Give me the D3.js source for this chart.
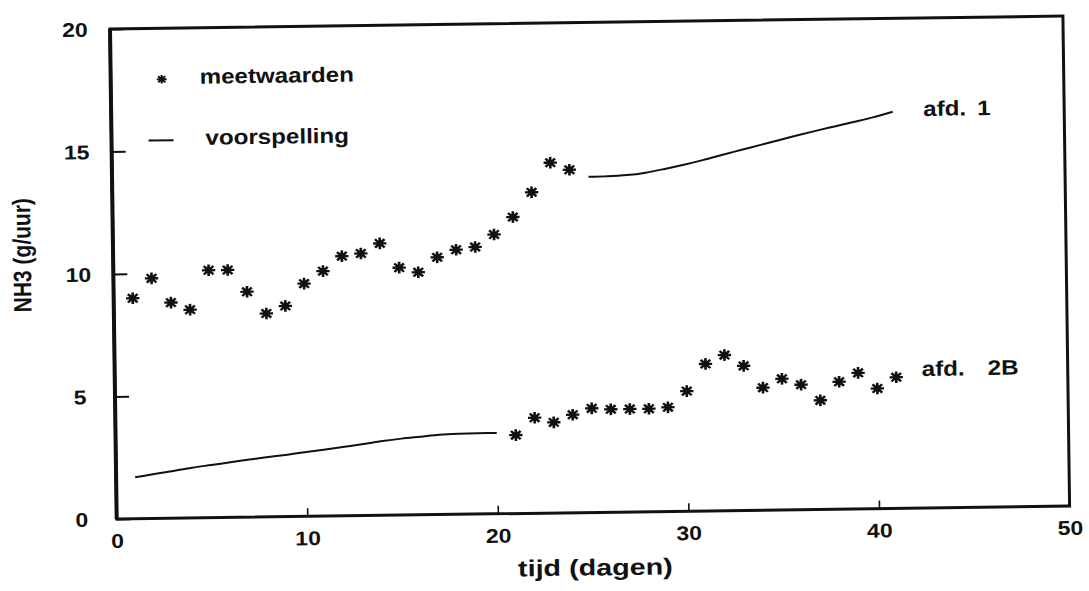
<!DOCTYPE html>
<html>
<head>
<meta charset="utf-8">
<script src="https://cdn.jsdelivr.net/npm/d3@7"></script>
<style>
  html, body { margin: 0; padding: 0; background: #fff; }
  svg { display: block; }
  text { font-family: "Liberation Sans", Arial, Helvetica, sans-serif; font-weight: bold; fill: #111; }
</style>
</head>
<body>
<svg id="chart" width="1089" height="591"></svg>
<script>
// Axis ticks
const xTicks = [0, 10, 20, 30, 40, 50];
const yTicks = [0, 5, 10, 15, 20];

// afd. 1: measured NH3 emission (g/uur), days 1-24
const meetDays1 = [1, 2, 3, 4, 5, 6, 7, 8, 9, 10, 11, 12, 13, 14, 15, 16, 17, 18, 19, 20, 21, 22, 23, 24];
const meetValues1 = [9.0, 9.8, 8.8, 8.5, 10.1, 10.1, 9.2, 8.3, 8.6, 9.5, 10.0, 10.6, 10.7, 11.1, 10.1, 9.9, 10.5, 10.8, 10.9, 11.4, 12.1, 13.1, 14.3, 14.0];

// afd. 1: prediction, days 25-41
const predDays1 = [25, 26, 27, 28, 29, 30, 31, 32, 33, 34, 35, 36, 37, 38, 39, 40, 41];
const predValues1 = [13.70, 13.71, 13.75, 13.84, 13.98, 14.14, 14.32, 14.52, 14.71, 14.90, 15.09, 15.28, 15.46, 15.63, 15.80, 15.98, 16.19];

// afd. 2B: prediction, days 1-20
const predDays2 = [1, 2, 3, 4, 5, 6, 7, 8, 9, 10, 11, 12, 13, 14, 15, 16, 17, 18, 19, 20];
const predValues2 = [1.69, 1.81, 1.93, 2.05, 2.15, 2.25, 2.35, 2.44, 2.53, 2.63, 2.72, 2.82, 2.92, 3.03, 3.12, 3.19, 3.26, 3.29, 3.30, 3.30];

// afd. 2B: measured NH3 emission, days 21-41
const meetDays2 = [21, 22, 23, 24, 25, 26, 27, 28, 29, 30, 31, 32, 33, 34, 35, 36, 37, 38, 39, 40, 41];
const meetValues2 = [3.2, 3.9, 3.7, 4.0, 4.25, 4.2, 4.2, 4.2, 4.25, 4.9, 6.0, 6.35, 5.9, 5.0, 5.35, 5.1, 4.45, 5.2, 5.55, 4.9, 5.35];

const legendLabels = ["meetwaarden", "voorspelling"];
const seriesLabels = ["afd.", "1", "2B"];

// ---- layout ----
const W = 953, H = 490;
const stretch = 1.15;       // wide lettering
const svg = d3.select("#chart");
svg.append("rect").attr("width", 1089).attr("height", 591).attr("fill", "#fff");

const g = svg.append("g").attr("transform", "translate(110,29) rotate(-0.78)");

const x = d3.scaleLinear().domain([0, 50]).range([0, W]);
const y = d3.scaleLinear().domain([0, 20]).range([H, 0]);

// ticks pointing into the plot
const xAxis = g.append("g").attr("transform", `translate(0,${H})`)
  .call(d3.axisBottom(x).tickValues(xTicks).tickSizeInner(-8).tickSizeOuter(0).tickFormat(d3.format("d")));
xAxis.select(".domain").remove();
xAxis.selectAll("line").attr("stroke", "#111").attr("stroke-width", 1.6);
xAxis.selectAll("text")
  .attr("x", 0).attr("y", 0).attr("dy", null)
  .attr("transform", `translate(0,22) scale(${stretch},1)`)
  .attr("text-anchor", "middle").attr("dominant-baseline", "central")
  .style("font-size", "20px").attr("fill", "#111");

const yAxis = g.append("g")
  .call(d3.axisLeft(y).tickValues(yTicks).tickSizeInner(-14).tickSizeOuter(0).tickFormat(d3.format("d")));
yAxis.select(".domain").remove();
yAxis.selectAll("line").attr("stroke", "#111").attr("stroke-width", 2);
yAxis.selectAll("text")
  .attr("x", 0).attr("dy", null)
  .attr("transform", `translate(-35,0) scale(${stretch},1)`)
  .attr("text-anchor", "middle").attr("dominant-baseline", "central")
  .style("font-size", "20px").attr("fill", "#111");

// frame
g.append("rect").attr("x", 0).attr("y", 0).attr("width", W).attr("height", H)
  .attr("fill", "none").attr("stroke", "#111").attr("stroke-width", 3);
g.append("line").attr("x1", 0).attr("y1", 0).attr("x2", 0).attr("y2", H)
  .attr("stroke", "#111").attr("stroke-width", 4);

// prediction curves
const line = d3.line().x(d => x(d[0])).y(d => y(d[1])).curve(d3.curveMonotoneX);
[[predDays1, predValues1], [predDays2, predValues2]].forEach(([days, vals]) => {
  g.append("path").datum(days.map((d, i) => [d, vals[i]]))
    .attr("d", line).attr("fill", "none").attr("stroke", "#111").attr("stroke-width", 2);
});

// asterisk markers
function asteriskPath(r) {
  const k = r * 0.72;
  return `M${-r},0L${r},0M0,${-r}L0,${r}M${-k},${-k}L${k},${k}M${-k},${k}L${k},${-k}`;
}
function drawMarker(sel, r, sw) {
  sel.append("path").attr("d", asteriskPath(r)).attr("stroke", "#111").attr("stroke-width", sw).attr("fill", "none");
  sel.append("circle").attr("r", r * 0.48).attr("fill", "#111");
}
[[meetDays1, meetValues1], [meetDays2, meetValues2]].forEach(([days, vals]) => {
  g.append("g").selectAll("g").data(days.map((d, i) => [d, vals[i]])).join("g")
    .attr("transform", d => `translate(${x(d[0])},${y(d[1])}) scale(${stretch},1)`)
    .each(function () { drawMarker(d3.select(this), 5.8, 2.3); });
});

// legend
const leg = g.append("g");
drawMarker(leg.append("g").attr("transform", `translate(51,51) scale(${stretch},1)`), 4.3, 1.8);
leg.append("text").attr("transform", `translate(89,49) scale(${stretch},1)`)
  .attr("dominant-baseline", "central").style("font-size", "21px").text(legendLabels[0]);
leg.append("line").attr("x1", 37).attr("x2", 62).attr("y1", 112).attr("y2", 112)
  .attr("stroke", "#111").attr("stroke-width", 2);
leg.append("text").attr("transform", `translate(94,110) scale(${stretch},1)`)
  .attr("dominant-baseline", "central").style("font-size", "21px").text(legendLabels[1]);

// series labels
function seriesLabel(u, v, gap, suffix) {
  const t = g.append("g").attr("transform", `translate(${u},${v})`);
  t.append("text").attr("transform", `scale(${stretch},1)`)
    .attr("dominant-baseline", "central").style("font-size", "21px").text(seriesLabels[0]);
  t.append("text").attr("transform", `translate(${gap},0) scale(${stretch},1)`)
    .attr("dominant-baseline", "central").style("font-size", "21px").text(suffix);
}
seriesLabel(812, 91, 54, seriesLabels[1]);
seriesLabel(807, 351, 66, seriesLabels[2]);

// axis titles
g.append("text").attr("transform", `translate(-91,225) scale(1.2,1) rotate(-90)`)
  .attr("text-anchor", "middle").attr("dominant-baseline", "central")
  .style("font-size", "21px").text("NH3 (g/uur)");
g.append("text").attr("transform", `translate(478,545) scale(1.25,1)`)
  .attr("text-anchor", "middle").attr("dominant-baseline", "central")
  .style("font-size", "23px").text("tijd (dagen)");
</script>
</body>
</html>
